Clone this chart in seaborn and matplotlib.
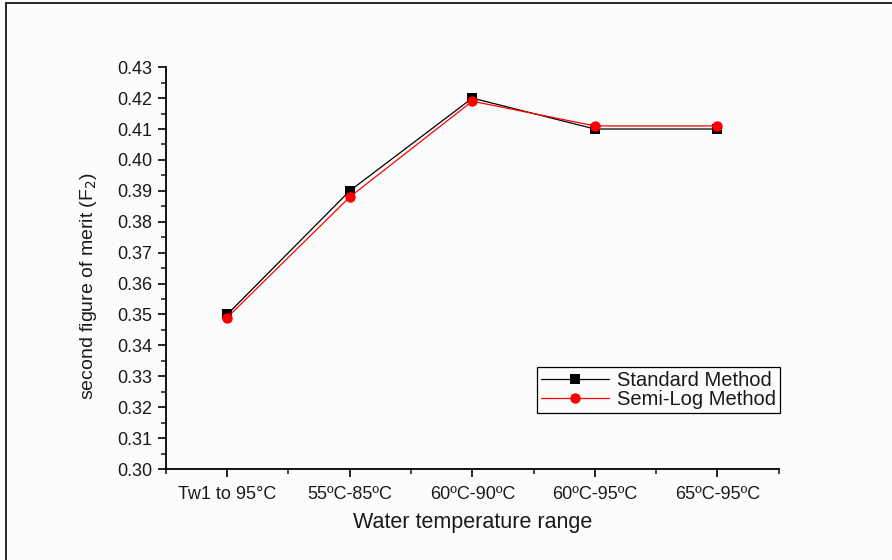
import matplotlib
matplotlib.use("Agg")
import matplotlib.pyplot as plt
import matplotlib.patches as mpatches
from matplotlib.ticker import MultipleLocator, FixedLocator, FormatStrFormatter
import pandas as pd
import seaborn as sns

# Data
categories = ["Tw1 to 95\u00b0C", "55\u00baC-85\u00baC", "60\u00baC-90\u00baC", "60\u00baC-95\u00baC", "65\u00baC-95\u00baC"]
standard_method = [0.350, 0.390, 0.420, 0.410, 0.410]
semilog_method = [0.349, 0.388, 0.419, 0.411, 0.411]
series_names = ["Standard Method", "Semi-Log Method"]

sns.set_theme(style="ticks")
plt.rcParams["font.family"] = ["Liberation Sans", "DejaVu Sans"]

df = pd.DataFrame({
    "x": list(range(len(categories))) * 2,
    "value": standard_method + semilog_method,
    "method": [series_names[0]] * len(categories) + [series_names[1]] * len(categories),
})

bg = "#fcfcfc"
fig = plt.figure(figsize=(8.92, 5.6), dpi=100, facecolor=bg)
ax = fig.add_axes([0.186, 0.1625, 0.687, 0.7175])
ax.set_facecolor(bg)

sns.lineplot(
    data=df, x="x", y="value", hue="method", style="method",
    palette={series_names[0]: "black", series_names[1]: "red"},
    markers={series_names[0]: "s", series_names[1]: "o"},
    dashes=False, linewidth=0.9, markersize=7.5, markeredgewidth=0,
    ax=ax,
)
for line in ax.get_lines():
    line.set_zorder(3)

ax.set_xlim(-0.5, 4.5)
ax.set_ylim(0.30, 0.43)
ax.xaxis.set_major_locator(FixedLocator(range(len(categories))))
ax.set_xticklabels(categories)
ax.xaxis.set_minor_locator(FixedLocator([-0.5, 0.5, 1.5, 2.5, 3.5, 4.5]))
ax.yaxis.set_major_locator(MultipleLocator(0.01))
ax.yaxis.set_minor_locator(MultipleLocator(0.005))
ax.yaxis.set_major_formatter(FormatStrFormatter("%.2f"))

ax.tick_params(axis="both", which="major", direction="out", length=6, width=1.2,
               labelsize=13, colors="black", pad=4)
ax.tick_params(axis="x", which="major", pad=6)
ax.tick_params(axis="both", which="minor", direction="out", length=3.5, width=1.2)
for lbl in ax.get_xticklabels() + ax.get_yticklabels():
    lbl.set_color("#1a1a1a")

for side in ["top", "right"]:
    ax.spines[side].set_visible(False)
for side in ["left", "bottom"]:
    ax.spines[side].set_linewidth(1.3)
    ax.spines[side].set_color("black")

ax.set_xlabel("Water temperature range", fontsize=15.5, labelpad=7, color="#1a1a1a")
ax.set_ylabel("second figure of merit (F$_2$)", fontsize=14, color="#1a1a1a")
ax.yaxis.set_label_coords(-0.109, 0.455)

leg = ax.legend(
    loc="upper left", bbox_to_anchor=(0.605, 0.254), frameon=True, fancybox=False,
    fontsize=14.5, handlelength=3.4, borderpad=0.2, labelspacing=0.0,
    handletextpad=0.4, borderaxespad=0,
)
leg.get_frame().set_edgecolor("black")
leg.get_frame().set_linewidth(0.9)
leg.get_frame().set_facecolor(bg)
leg.get_frame().set_alpha(1)
for t in leg.get_texts():
    t.set_color("#1a1a1a")

# figure border on left and top
fig.add_artist(mpatches.Rectangle((6 / 892, -0.1), 1.2, 1.1 - 3 / 560, transform=fig.transFigure,
                                  fill=False, edgecolor="black", linewidth=1.2))

fig.savefig("out.png", dpi=100, facecolor=fig.get_facecolor())
